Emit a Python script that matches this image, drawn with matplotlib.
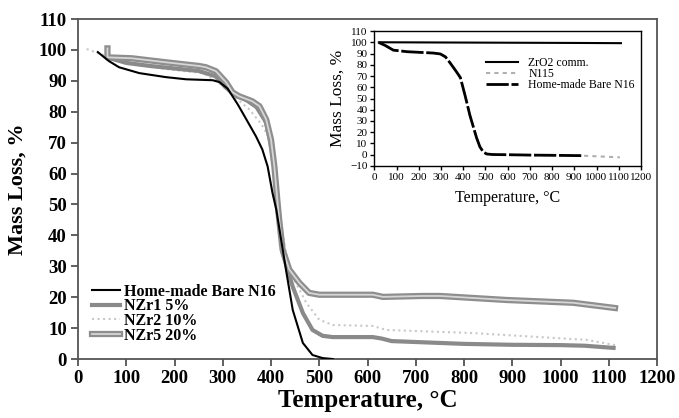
import numpy as np
import matplotlib
matplotlib.use("Agg")
import matplotlib.pyplot as plt
import matplotlib.patheffects as pe

plt.rcParams['font.family'] = ['Liberation Serif', 'DejaVu Serif']

# ---------------- main chart data ----------------
bare_t = [41, 64, 85, 127, 182, 224, 279, 293, 310, 331, 349, 369, 382, 393, 403, 411, 431, 445, 466, 486, 507, 528]
bare_m = [99.3, 96.4, 94.4, 92.5, 91.2, 90.5, 90.2, 89.6, 87.5, 82.4, 77.5, 72, 67.8, 62.3, 53.8, 48.3, 28.9, 15.9, 5.2, 1.3, 0.3, 0.0]

nzr1_t = [62, 100, 150, 200, 250, 285, 305, 325, 345, 370, 390, 405, 415, 424, 445, 466, 486, 507, 528, 611, 630, 650, 800, 900, 1000, 1050, 1110]
nzr1_m = [97.5, 95.8, 94.8, 94.0, 93.2, 91.5, 88.0, 85.5, 84.2, 81.5, 76.5, 65, 48, 34.3, 23.4, 14.9, 9.4, 7.5, 7.1, 7.1, 6.6, 5.8, 4.9, 4.6, 4.5, 4.3, 3.6]

nzr2_t = [18, 50, 100, 150, 200, 260, 300, 330, 355, 380, 398, 410, 420, 430, 445, 473, 500, 528, 611, 639, 818, 957, 1054, 1113]
nzr2_m = [100.3, 98.5, 96.0, 94.5, 93.5, 92.5, 88.5, 84.0, 80.8, 76.0, 71.0, 60, 45, 35, 26.6, 18.2, 12.7, 11.0, 10.7, 9.4, 8.4, 7.1, 6.2, 4.5]

nzr5_t = [61, 61, 112, 182, 251, 265, 286, 307, 320, 334, 361, 376, 390, 400, 407, 413, 417, 424, 438, 459, 479, 500, 542, 611, 632, 714, 750, 888, 1026, 1113]
nzr5_m = [100.5, 97.6, 97.3, 96.0, 94.8, 94.4, 93.1, 89.5, 86.3, 85.0, 83.4, 81.8, 77.5, 71, 62.3, 51.6, 45, 35.4, 28.9, 24.6, 21.4, 20.8, 20.8, 20.8, 20.1, 20.4, 20.4, 19.1, 18.2, 16.5]

x_ticks = list(range(0, 1201, 100))
y_ticks = list(range(0, 111, 10))

# ---------------- inset data ----------------
zro2_t = [20, 300, 600, 900, 1110]
zro2_m = [100.0, 99.8, 99.6, 99.4, 99.2]

n115_t = [18, 50, 85, 148, 266, 297, 320, 342, 365, 387, 409, 430, 445, 460, 475, 490, 505, 530, 600, 700, 800, 932, 1000, 1105]
n115_m = [100, 97, 93, 91.6, 90.4, 89.6, 87, 81.3, 75, 68.6, 52, 35, 25, 15, 7, 2.5, 0.7, 0.2, 0, -0.3, -0.5, -0.8, -1.4, -2.3]

home_t = [18, 50, 85, 148, 266, 297, 320, 342, 365, 387, 409, 430, 445, 460, 475, 490, 505, 530, 600, 700, 800, 932]
home_m = [100, 97, 93, 91.6, 90.4, 89.6, 87, 81.3, 75, 68.6, 52, 35, 25, 15, 7, 2.5, 0.7, 0.2, 0, -0.3, -0.5, -0.8]

in_x_ticks = list(range(0, 1201, 100))
in_y_ticks = list(range(-10, 111, 10))

# ---------------- figure ----------------
fig = plt.figure(figsize=(6.79, 4.18), dpi=100)
ax = fig.add_axes([0.1149, 0.1411, 0.8527, 0.8134])

ax.plot(bare_t, bare_m, color='black', lw=1.5, label='Home-made Bare N16', zorder=5)
ax.plot(nzr1_t, nzr1_m, color='#8a8a8a', lw=3, label='NZr1 5%', zorder=3)
ax.plot(nzr2_t, nzr2_m, color='#c8c8c8', lw=1.5, ls=':', label='NZr2 10%', zorder=2)
ax.plot(nzr5_t, nzr5_m, color='#d6d6d6', lw=1.3, label='NZr5 20%', zorder=4,
        path_effects=[pe.Stroke(linewidth=4.5, foreground='#8e8e8e'), pe.Normal()])

ax.set_xlim(0, 1200)
ax.set_ylim(0, 110)
ax.set_xticks(x_ticks)
ax.set_yticks(y_ticks)
ax.tick_params(direction='out', length=5, width=1.2, color='#444444', labelsize=13.5, pad=3)
for lab in ax.get_xticklabels() + ax.get_yticklabels():
    lab.set_fontweight('bold')
for s in ax.spines.values():
    s.set_color('#555555')
    s.set_linewidth(1.3)

ax.set_xlabel('Temperature, °C', fontsize=18, fontweight='bold', labelpad=1)
ax.set_ylabel('Mass Loss, %', fontsize=16, fontweight='bold', labelpad=8)

leg = ax.legend(loc='upper left', bbox_to_anchor=(0.025, 0.222), frameon=False,
                prop={'weight': 'bold', 'size': 11.5}, handlelength=1.75,
                handletextpad=0.2, labelspacing=-0.08, borderpad=0, borderaxespad=0)

# ---------------- inset ----------------
axi = fig.add_axes([0.5514, 0.6029, 0.3926, 0.3229])
axi.plot(zro2_t, zro2_m, color='black', lw=1.5, label='ZrO2 comm.')
axi.plot(n115_t, n115_m, color='#b0b0b0', lw=1.5, ls=(0, (2, 2)), label='N115')
axi.plot(home_t, home_m, color='black', lw=2, ls=(0, (8, 1)), label='Home-made Bare N16')

axi.set_xlim(0, 1200)
axi.set_ylim(-10, 110)
axi.set_xticks(in_x_ticks)
axi.set_yticks(in_y_ticks)
axi.tick_params(direction='out', length=3, width=1, labelsize=8, pad=2)
for s in axi.spines.values():
    s.set_linewidth(1)
axi.set_xlabel('Temperature, °C', fontsize=11.5, labelpad=6)
axi.set_ylabel('Mass Loss, %', fontsize=12.5, labelpad=3)
axi.legend(loc='upper left', bbox_to_anchor=(0.42, 0.805), frameon=False, fontsize=8.5,
           handlelength=2.7, handletextpad=0.85, labelspacing=-0.1, borderpad=0, borderaxespad=0)

plt.savefig('out.png', dpi=100)
